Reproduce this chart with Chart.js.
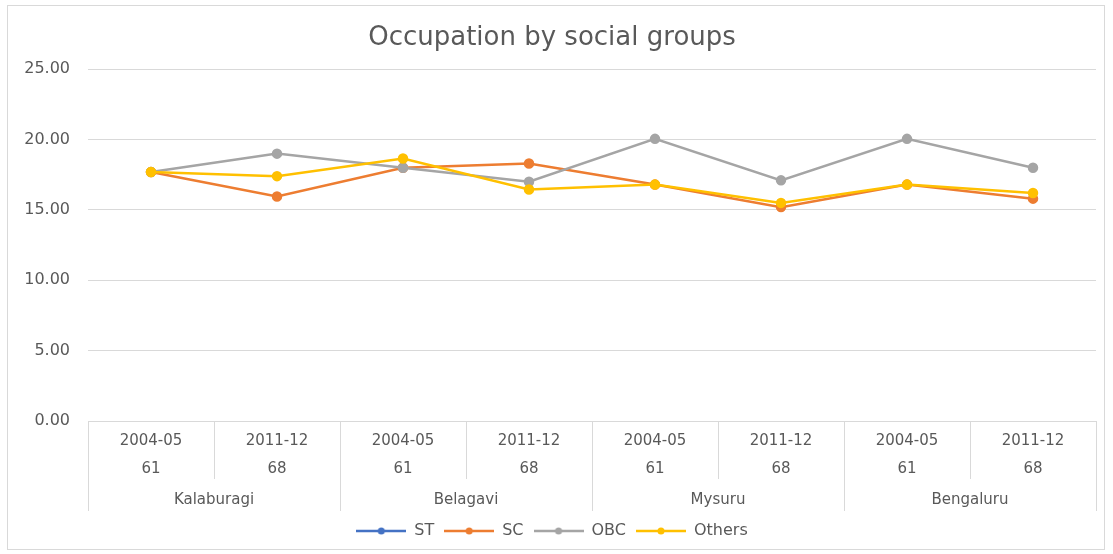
<!DOCTYPE html>
<html>
<head>
<meta charset="utf-8">
<script src="https://cdn.jsdelivr.net/npm/chart.js@4"></script>
<style>
  body { margin: 0; background: #fff; }
  #wrap {
    position: absolute; left: 7px; top: 5px;
    width: 1096px; height: 543px;
    border: 1px solid #d9d9d9;
  }
</style>
</head>
<body>
<div id="wrap"><canvas id="chart"></canvas></div>
<script>
const periods = [
  ['2004-05', '61'], ['2011-12', '68'],
  ['2004-05', '61'], ['2011-12', '68'],
  ['2004-05', '61'], ['2011-12', '68'],
  ['2004-05', '61'], ['2011-12', '68']
];
const districts = ['Kalaburagi', 'Belagavi', 'Mysuru', 'Bengaluru'];

const stValues = [null, null, null, null, null, null, null, null];
const scValues = [17.7, 15.95, 18.0, 18.3, 16.8, 15.2, 16.8, 15.8];
const obcValues = [17.7, 19.0, 18.0, 17.0, 20.05, 17.1, 20.05, 18.0];
const othersValues = [17.7, 17.4, 18.65, 16.45, 16.8, 15.5, 16.8, 16.2];

const colors = { ST: '#4472C4', SC: '#ED7D31', OBC: '#A5A5A5', Others: '#FFC000' };
const textColor = '#595959';
const gridColor = '#d9d9d9';
const fontFamily = '"DejaVu Sans", sans-serif';

// legend marker: short line with a dot in the middle
function legendMarker(color) {
  const c = document.createElement('canvas');
  c.width = 50; c.height = 10;
  const g = c.getContext('2d');
  g.strokeStyle = color; g.lineWidth = 2.5;
  g.beginPath(); g.moveTo(0, 5); g.lineTo(50, 5); g.stroke();
  g.fillStyle = color;
  g.beginPath(); g.arc(25, 5, 3.5, 0, Math.PI * 2); g.fill();
  return c;
}

function series(label, data, order) {
  return {
    label: label,
    data: data,
    borderColor: colors[label],
    backgroundColor: colors[label],
    borderWidth: 2.5,
    pointRadius: 4,
    pointHoverRadius: 4,
    tension: 0,
    order: order
  };
}

// lines of the category table under the plot
const tableLines = {
  id: 'tableLines',
  afterDraw(chart) {
    const x = chart.scales.x, x2 = chart.scales.x2;
    const ctx = chart.ctx;
    ctx.save();
    ctx.strokeStyle = gridColor;
    ctx.lineWidth = 1;
    for (let i = 0; i <= periods.length; i++) {
      const px = Math.round(x.getPixelForValue(i - 0.5)) + 0.5;
      const bottom = i % 2 === 0 ? x2.bottom - 2 : x.bottom;
      ctx.beginPath();
      ctx.moveTo(px, x.top);
      ctx.lineTo(px, bottom);
      ctx.stroke();
    }
    ctx.restore();
  }
};

new Chart(document.getElementById('chart'), {
  type: 'line',
  data: {
    labels: periods,
    datasets: [
      series('ST', stValues, 3),
      series('SC', scValues, 2),
      series('OBC', obcValues, 1),
      series('Others', othersValues, 0)
    ]
  },
  options: {
    responsive: true,
    maintainAspectRatio: false,
    animation: false,
    layout: { padding: { left: 0, right: 8, top: 0, bottom: 0 } },
    plugins: {
      title: {
        display: true,
        text: 'Occupation by social groups',
        color: textColor,
        font: { family: fontFamily, size: 26, weight: 'normal' },
        padding: { top: 17, bottom: 15 }
      },
      legend: {
        position: 'bottom',
        labels: {
          color: textColor,
          font: { family: fontFamily, size: 16 },
          usePointStyle: true,
          pointStyleWidth: 50,
          padding: 10,
          generateLabels(chart) {
            const items = Chart.defaults.plugins.legend.labels.generateLabels(chart);
            items.sort((a, b) => a.datasetIndex - b.datasetIndex);
            items.forEach(it => { it.pointStyle = legendMarker(colors[it.text]); });
            return items;
          }
        }
      },
      tooltip: { enabled: false }
    },
    scales: {
      y: {
        min: 0,
        max: 25,
        ticks: {
          stepSize: 5,
          color: textColor,
          font: { family: fontFamily, size: 16 },
          padding: 18,
          callback: v => v.toFixed(2)
        },
        grid: { color: gridColor, drawTicks: false },
        border: { display: false },
        afterFit(s) { s.width = 80; }
      },
      x: {
        offset: true,
        ticks: {
          color: textColor,
          font: { family: fontFamily, size: 15, lineHeight: 1.87 },
          padding: 6,
          maxRotation: 0,
          autoSkip: false
        },
        grid: { drawOnChartArea: false, drawTicks: false },
        border: { color: gridColor },
        afterFit(s) { s.height = 58; }
      },
      x2: {
        type: 'category',
        position: 'bottom',
        labels: districts,
        offset: true,
        ticks: {
          color: textColor,
          font: { family: fontFamily, size: 15 },
          padding: 12,
          maxRotation: 0,
          autoSkip: false
        },
        grid: { display: false, drawTicks: false },
        border: { display: false },
        afterFit(s) { s.height = 34; }
      }
    }
  },
  plugins: [tableLines]
});
</script>
</body>
</html>
